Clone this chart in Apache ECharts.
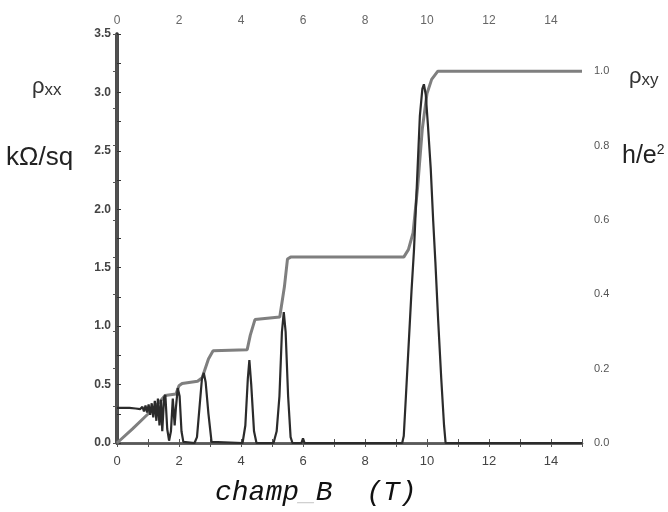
<!DOCTYPE html>
<html>
<head>
<meta charset="utf-8">
<script src="https://cdn.jsdelivr.net/npm/echarts@6/dist/echarts.min.js"></script>
<style>
  html, body { margin: 0; padding: 0; background: #fff; }
  #main { width: 668px; height: 512px; }
</style>
</head>
<body>
<div id="main"></div>
<script>
// champ magnétique B (T) et rho_xx (kΩ/sq)
const xxField = [0, 0.2, 0.4, 0.6, 0.75, 0.82, 0.87, 0.92, 0.97, 1.02, 1.07, 1.12, 1.17, 1.22, 1.27, 1.32, 1.37, 1.42, 1.46, 1.52, 1.56, 1.62, 1.68, 1.74, 1.8, 1.86, 1.9, 1.96, 2.02, 2.08, 2.14, 2.5, 2.58, 2.66, 2.74, 2.8, 2.86, 2.95, 3.05, 4.05, 4.14, 4.22, 4.27, 4.33, 4.42, 4.5, 5.05, 5.15, 5.24, 5.32, 5.38, 5.44, 5.52, 5.6, 5.66, 5.95, 6.0, 6.05, 9.2, 9.25, 9.32, 9.42, 9.5, 9.58, 9.68, 9.77, 9.85, 9.9, 9.96, 10.03, 10.12, 10.2, 10.27, 10.36, 10.46, 10.55, 10.6, 15];
const xxValues = [0.30, 0.30, 0.30, 0.295, 0.29, 0.31, 0.27, 0.32, 0.26, 0.33, 0.24, 0.34, 0.22, 0.36, 0.19, 0.38, 0.15, 0.37, 0.10, 0.39, 0.41, 0.12, 0.02, 0.10, 0.38, 0.15, 0.30, 0.47, 0.40, 0.10, 0.01, 0.0, 0.05, 0.30, 0.55, 0.60, 0.52, 0.25, 0.01, 0.0, 0.15, 0.55, 0.71, 0.50, 0.10, 0.0, 0.0, 0.10, 0.40, 0.95, 1.12, 0.95, 0.40, 0.05, 0.0, 0.0, 0.04, 0.0, 0.0, 0.06, 0.40, 0.90, 1.30, 1.65, 2.25, 2.80, 3.03, 3.07, 2.98, 2.72, 2.35, 1.90, 1.55, 1.05, 0.55, 0.15, 0.0, 0.0];

// rho_xy en unités h/e^2
const xyField = [0, 0.5, 1.0, 1.4, 1.55, 1.9, 2.0, 2.1, 2.6, 2.75, 2.95, 3.1, 4.2, 4.3, 4.45, 5.25, 5.4, 5.5, 5.6, 9.25, 9.4, 9.55, 9.7, 9.85, 10.0, 10.15, 10.35, 15];
const xyValues = [0, 0.038, 0.078, 0.113, 0.128, 0.132, 0.154, 0.16, 0.166, 0.176, 0.226, 0.248, 0.251, 0.29, 0.332, 0.339, 0.42, 0.495, 0.5, 0.5, 0.52, 0.565, 0.69, 0.846, 0.94, 0.978, 1.0, 1.0];

const fieldTicks = [0, 2, 4, 6, 8, 10, 12, 14];
const leftTicks = [0, 0.5, 1.0, 1.5, 2.0, 2.5, 3.0, 3.5];
const rightTicks = [0, 0.2, 0.4, 0.6, 0.8, 1.0];

const hasTick = (list, v) => list.some((t) => Math.abs(t - v) < 1e-6);

const chart = echarts.init(document.getElementById('main'));

const xAxisBase = {
	type: 'value',
	min: 0,
	max: 15,
	interval: 1,
	splitLine: { show: false },
	axisTick: { inside: true, length: 4, lineStyle: { color: '#555' } },
};

const option = {
	animation: false,
	backgroundColor: '#fff',
	grid: { left: 117, right: 86, top: 34, bottom: 69 },
	title: {
		text: 'champ{u|_}B  (T)',
		left: 210,
		top: 474,
		textStyle: {
			fontFamily: 'Liberation Mono',
			fontStyle: 'italic',
			fontSize: 28,
			fontWeight: 'normal',
			color: '#111',
			rich: {
				u: {
					fontFamily: 'Liberation Mono',
					fontStyle: 'italic',
					fontSize: 28,
					color: '#d0d0d0',
				},
			},
		},
	},
	xAxis: [
		Object.assign({}, xAxisBase, {
			position: 'bottom',
			axisLine: { lineStyle: { color: '#333', width: 2.5 } },
			axisLabel: {
				color: '#444',
				fontSize: 13,
				margin: 12,
				formatter: (v) => (hasTick(fieldTicks, v) ? String(v) : ''),
			},
		}),
		Object.assign({}, xAxisBase, {
			position: 'top',
			axisLine: { lineStyle: { color: '#666', width: 1.5 } },
			axisLabel: {
				color: '#666',
				fontSize: 12,
				margin: 7,
				formatter: (v) => (hasTick(fieldTicks, v) ? String(v) : ''),
			},
		}),
	],
	yAxis: [
		{
			type: 'value',
			position: 'left',
			min: 0,
			max: 3.5,
			interval: 0.25,
			splitLine: { show: false },
			axisLine: { show: true, lineStyle: { color: '#111', width: 3.5 } },
			axisTick: { show: true, inside: true, length: 4, lineStyle: { color: '#333' } },
			axisLabel: {
				color: '#444',
				fontSize: 12,
				fontWeight: 'bold',
				margin: 6,
				formatter: (v) => (hasTick(leftTicks, v) ? v.toFixed(1) : ''),
			},
		},
		{
			type: 'value',
			position: 'right',
			min: 0,
			max: 1.1,
			interval: 0.1,
			splitLine: { show: false },
			axisLine: { show: true, lineStyle: { color: '#666', width: 1.5 } },
			axisTick: { show: true, inside: true, length: 4, lineStyle: { color: '#555' } },
			axisLabel: {
				color: '#555',
				fontSize: 11,
				margin: 12,
				formatter: (v) => (hasTick(rightTicks, v) ? v.toFixed(1) : ''),
			},
		},
	],
	graphic: [
		{
			type: 'text',
			left: 32,
			top: 76,
			style: {
				text: 'ρ{s|xx}',
				font: '22px "Liberation Sans"',
				fill: '#333',
				rich: { s: { fontSize: 17, fontFamily: 'Liberation Sans', fill: '#333', padding: [6, 0, 0, 0] } },
			},
		},
		{
			type: 'text',
			left: 6,
			top: 145,
			style: { text: 'kΩ/sq', font: '26px "Liberation Sans"', fill: '#222' },
		},
		{
			type: 'text',
			left: 629,
			top: 66,
			style: {
				text: 'ρ{s|xy}',
				font: '22px "Liberation Sans"',
				fill: '#333',
				rich: { s: { fontSize: 17, fontFamily: 'Liberation Sans', fill: '#333', padding: [6, 0, 0, 0] } },
			},
		},
		{
			type: 'text',
			left: 622,
			top: 143,
			style: {
				text: 'h/e{p|2}',
				font: '25px "Liberation Sans"',
				fill: '#222',
				rich: { p: { fontSize: 14, fontFamily: 'Liberation Sans', fill: '#222', padding: [0, 0, 12, 0] } },
			},
		},
	],
	series: [
		{
			name: 'rho_xy',
			type: 'line',
			xAxisIndex: 0,
			yAxisIndex: 1,
			showSymbol: false,
			data: xyField.map((b, i) => [b, xyValues[i]]),
			lineStyle: { color: '#7f7f7f', width: 3 },
		},
		{
			name: 'rho_xx',
			type: 'line',
			xAxisIndex: 0,
			yAxisIndex: 0,
			showSymbol: false,
			data: xxField.map((b, i) => [b, xxValues[i]]),
			lineStyle: { color: '#2b2b2b', width: 2.2 },
		},
	],
};

chart.setOption(option);
</script>
</body>
</html>
